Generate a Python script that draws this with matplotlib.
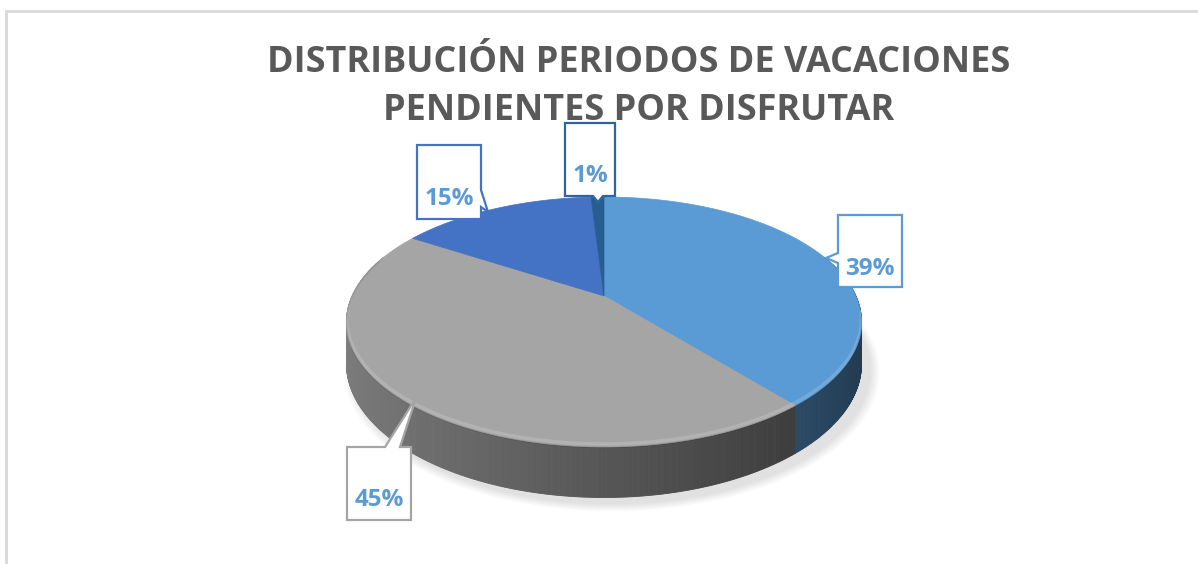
import numpy as np
import matplotlib
matplotlib.use("Agg")
import matplotlib.pyplot as plt
from matplotlib.patches import Polygon
from matplotlib.colors import to_rgb

# ---------------- data ----------------
title_lines = ["DISTRIBUCIÓN PERIODOS DE VACACIONES", "PENDIENTES POR DISFRUTAR"]
values = [39, 45, 15, 1]
labels = [f"{v}%" for v in values]
slice_colors = ["#5B9BD5", "#A5A5A5", "#4472C4", "#275E92"]
side_gain = [1.3, 1.0, 1.15, 1.15]
callout_edge = ["#5B9BD5", "#A5A5A5", "#4472C4", "#2E64A0"]
label_color = "#5B9BD5"
title_color = "#595959"

W, H = 1198, 564
fig = plt.figure(figsize=(W / 100, H / 100), dpi=100)
ax = fig.add_axes([0, 0, 1, 1])
ax.set_xlim(0, W)
ax.set_ylim(H, 0)
ax.axis("off")

# frame
ax.plot([5.5, 5.5], [10, H], color="#D9D9D9", lw=2, solid_capstyle="butt")
ax.plot([5, W], [10.5, 10.5], color="#D9D9D9", lw=2, solid_capstyle="butt")

# ---------------- perspective pie geometry ----------------
cx, cy = 604, 296
A, B, k = 119.6, 251.9, 0.208
t0 = 40.0

def proj(theta):
    u = np.sin(theta)
    v = np.cos(theta)
    d = 1 + k * v
    return cx + B * u / d, cy - A * v / d, t0 / d

fr = np.cumsum([0] + values) / float(sum(values))
bounds = fr * 2 * np.pi

def slice_of(theta):
    for i in range(len(values)):
        if bounds[i] <= theta < bounds[i + 1]:
            return i
    return len(values) - 1

# soft shadow
th = np.linspace(0, 2 * np.pi, 400)
x0, y0, tt = proj(th)
for j in range(10):
    g = 1 + 0.004 * (10 - j)
    xs = cx + (x0 - cx) * g + 8
    ys = (y0 + tt - cy) * g + cy + 6
    ax.add_patch(Polygon(np.c_[xs, ys], closed=True, fc="black", ec="none", alpha=0.012, zorder=1))

# side
N = 900
angs = np.linspace(0, 2 * np.pi, N + 1)
for a0, a1 in zip(angs[:-1], angs[1:]):
    am = 0.5 * (a0 + a1)
    if np.cos(am) > 0.35:
        continue
    i = slice_of(am)
    xa, ya, ta = proj(a0)
    xb, yb, tb = proj(a1)
    um = np.sin(am)
    f = (0.52 - 0.24 * um) * side_gain[i]
    base = np.array(to_rgb(slice_colors[i]))
    c = np.clip(base * f, 0, 1)
    ax.add_patch(Polygon([[xa, ya], [xb, yb], [xb, yb + tb], [xa, ya + ta]], closed=True,
                         fc=c, ec=c, lw=0.6, zorder=2))

# top faces
for i in range(len(values)):
    a = np.linspace(bounds[i], bounds[i + 1], max(int(values[i] * 8), 6))
    xs, ys, _ = proj(a)
    pts = np.vstack([[cx, cy], np.c_[xs, ys]])
    ax.add_patch(Polygon(pts, closed=True, fc=slice_colors[i], ec=slice_colors[i], lw=0.5, zorder=3))

# bevel highlight on front rim
a = np.linspace(np.pi * 0.55, np.pi * 1.6, 300)
xs, ys, _ = proj(a)
ax.plot(xs, ys - 3, color="white", lw=2.5, alpha=0.15, zorder=4)
ax.plot(xs, ys + 0.5, color="black", lw=1.0, alpha=0.10, zorder=4)

# ---------------- callouts ----------------
callouts = [
    # 39%
    dict(poly=[(838, 215), (902, 215), (902, 287), (838, 287), (838, 263), (826, 258), (838, 253)],
         text=(870, 269)),
    # 45%
    dict(poly=[(347, 447), (385, 447), (416, 398), (400, 447), (411, 447), (411, 520), (347, 520)],
         text=(379, 500)),
    # 15%
    dict(poly=[(417, 145), (481, 145), (481, 190), (488, 212), (481, 207), (481, 219), (417, 219)],
         text=(449, 199)),
    # 1%
    dict(poly=[(565, 123), (615, 123), (615, 196), (603, 196), (598, 202), (593, 196), (565, 196)],
         text=(590, 176)),
]
for i, cdef in enumerate(callouts):
    ax.add_patch(Polygon(cdef["poly"], closed=True, fc="white", ec=callout_edge[i], lw=1.6, zorder=6))
    ax.text(cdef["text"][0], cdef["text"][1], labels[i], ha="center", va="center",
            fontsize=17.5, fontweight="bold", color=label_color, family="Open Sans", zorder=7)

# ---------------- title ----------------
t1 = ax.text(639, 63, title_lines[0], ha="center", va="center", fontsize=30,
             fontweight="bold", color=title_color, family="Open Sans", zorder=8)
t2 = ax.text(639, 111, title_lines[1], ha="center", va="center", fontsize=30,
             fontweight="bold", color=title_color, family="Open Sans", zorder=8)
fig.canvas.draw()
r = fig.canvas.get_renderer()
w1 = t1.get_window_extent(r).width
fs = 30 * 742.0 / w1
t1.set_fontsize(fs)
t2.set_fontsize(fs)

fig.savefig("out.png", dpi=100, facecolor="white")
